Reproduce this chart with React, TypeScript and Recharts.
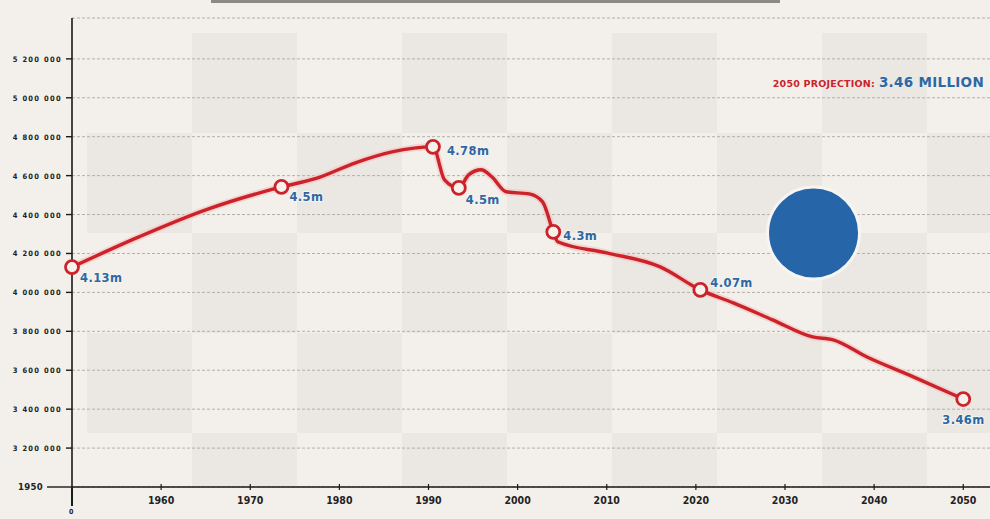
import React from "react";
import {
  LineChart,
  Line,
  XAxis,
  YAxis,
  CartesianGrid,
  ReferenceDot,
} from "recharts";

// population, millions
const years = [
  1950, 1957.5, 1965, 1973.5, 1977.3, 1981.8, 1985.9, 1990.5, 1991.8, 1993.4,
  1994.5, 1995.9, 1997.1, 1998.7, 2001.3, 2002.8, 2004, 2004.5, 2010, 2016,
  2020.5, 2024.2, 2028.6, 2033.1, 2035.4, 2039.2, 2044.4, 2050,
];
const population = [
  4.13, 4.285, 4.424, 4.542, 4.584, 4.666, 4.722, 4.748, 4.578, 4.537,
  4.604, 4.63, 4.594, 4.517, 4.506, 4.465, 4.311, 4.26, 4.203, 4.131,
  4.013, 3.946, 3.859, 3.771, 3.756, 3.668, 3.566, 3.452,
];
const tags = [
  "4.13m", "", "", "4.5m", "", "", "", "4.78m", "", "4.5m",
  "", "", "", "", "", "", "4.3m", "", "", "",
  "4.07m", "", "", "", "", "", "", "3.46m",
];

const xTicks = [1960, 1970, 1980, 1990, 2000, 2010, 2020, 2030, 2040, 2050];
const yTicks = [3.0, 3.2, 3.4, 3.6, 3.8, 4.0, 4.2, 4.4, 4.6, 4.8, 5.0, 5.2];
const baseLabel = "1950";
const projectionYear = "2050 PROJECTION:";
const projectionValue = "3.46 MILLION";
const bubble = { year: 2033.2, value: 4.305 };

const data = years.map((year, i) => ({
  year,
  pop: population[i],
  tag: tags[i],
}));

const W = 990;
const H = 519;
const AXIS_X = 72;
const AXIS_Y = 487;
const RED = "#cc232b";
const BLUE = "#2d68a5";
const BG = "#f3f0eb";

// label offsets (dx, dy) from each marked point, by index
const TAG_OFFSETS: Record<string, [number, number]> = {
  "0": [8, 15],
  "3": [8, 14],
  "7": [14, 8],
  "9": [7, 16],
  "16": [10, 8],
  "20": [10, -3],
  "27": [-21, 25],
};

function fmtPop(v: number): string {
  const n = Math.round(v * 1_000_000);
  return n.toString().replace(/\B(?=(\d{3})+(?!\d))/g, " ");
}

function YTick({ y, payload }: any) {
  const v = payload.value as number;
  const isBase = Math.abs(v - 3) < 1e-9;
  return (
    <g>
      <line
        x1={isBase ? 47 : 66}
        x2={AXIS_X}
        y1={y}
        y2={y}
        stroke="#1a1a1a"
        strokeWidth={1.4}
      />
      <text
        x={isBase ? 43 : 62}
        y={y + 3}
        textAnchor="end"
        fontSize={isBase ? 9.5 : 7.5}
        fontWeight="bold"
        letterSpacing={isBase ? 0.3 : 1.3}
        fill="#222"
        fontFamily="'DejaVu Sans Condensed', 'DejaVu Sans', sans-serif"
      >
        {isBase ? baseLabel : fmtPop(v)}
      </text>
    </g>
  );
}

function XTick({ x, payload }: any) {
  return (
    <g>
      <line x1={x} x2={x} y1={AXIS_Y - 3} y2={AXIS_Y + 3} stroke="#1a1a1a" strokeWidth={1.2} />
      <text
        x={x}
        y={AXIS_Y + 17}
        textAnchor="middle"
        fontSize={10.5}
        fontWeight="bold"
        fill="#222"
        fontFamily="'DejaVu Sans Condensed', 'DejaVu Sans', sans-serif"
      >
        {payload.value}
      </text>
    </g>
  );
}

function Marker(props: any) {
  const { cx, cy, index, payload } = props;
  if (!payload.tag) return <g key={`m-${index}`} />;
  const [dx, dy] = TAG_OFFSETS[String(index)] ?? [8, 12];
  return (
    <g key={`m-${index}`}>
      <circle cx={cx} cy={cy} r={6.5} fill="#f7f1ec" stroke={RED} strokeWidth={2.8} />
      <text
        x={cx + dx}
        y={cy + dy}
        fontSize={11.5}
        fontWeight="bold"
        letterSpacing={0.4}
        fill={BLUE}
        fontFamily="'DejaVu Sans', sans-serif"
        stroke="#f6f3ee"
        strokeWidth={2}
        paintOrder="stroke"
      >
        {payload.tag}
      </text>
    </g>
  );
}

export default function App() {
  return (
    <div
      style={{
        position: "absolute",
        left: 0,
        top: 0,
        width: W,
        height: H,
        background: BG,
        overflow: "hidden",
      }}
    >
      {/* faint checkerboard behind the plot */}
      <div
        style={{
          position: "absolute",
          left: 87,
          top: 33,
          width: W - 87,
          height: AXIS_Y - 33,
          backgroundImage:
            "repeating-conic-gradient(#ebe8e3 0 25%, #f3f0eb 0 50%)",
          backgroundSize: "210px 200px",
          backgroundPosition: "0px 0px",
        }}
      />
      {/* cropped title box edge */}
      <div
        style={{
          position: "absolute",
          left: 211,
          top: 0,
          width: 569,
          height: 3,
          background: "#8c8a86",
        }}
      />

      <div style={{ position: "absolute", left: 0, top: 0 }}>
        <LineChart
          width={W}
          height={H}
          data={data}
          margin={{ top: 18, right: 0, bottom: 0, left: 0 }}
        >
          <CartesianGrid
            horizontal
            vertical={false}
            stroke="#b3afa8"
            strokeDasharray="3 2"
          />
          <XAxis
            dataKey="year"
            type="number"
            domain={[1950, 2053]}
            ticks={xTicks}
            interval={0}
            height={H - AXIS_Y}
            tick={<XTick />}
            tickLine={false}
            axisLine={{ stroke: "#1a1a1a", strokeWidth: 1.6 }}
          />
          <YAxis
            type="number"
            domain={[3, 5.41]}
            ticks={yTicks}
            interval={0}
            width={AXIS_X}
            tick={<YTick />}
            tickLine={false}
            axisLine={{ stroke: "#1a1a1a", strokeWidth: 1.6 }}
          />
          <ReferenceDot
            x={bubble.year}
            y={bubble.value}
            r={46}
            fill="#2565a8"
            stroke="#f7f5f1"
            strokeWidth={3}
            isFront={false}
          />
          <Line
            type="monotone"
            dataKey="pop"
            stroke="#f2c9c6"
            strokeWidth={7}
            strokeOpacity={0.7}
            dot={false}
            activeDot={false}
            isAnimationActive={false}
          />
          <Line
            type="monotone"
            dataKey="pop"
            stroke={RED}
            strokeWidth={3.4}
            dot={(p: any) => <Marker {...p} />}
            activeDot={false}
            isAnimationActive={false}
          />
        </LineChart>
      </div>

      {/* axis stub below the origin */}
      <div
        style={{
          position: "absolute",
          left: AXIS_X - 1,
          top: AXIS_Y,
          width: 1.6,
          height: 19,
          background: "#1a1a1a",
        }}
      />
      <div
        style={{
          position: "absolute",
          left: AXIS_X - 3,
          top: 508,
          fontSize: 7,
          fontWeight: "bold",
          color: "#222",
          fontFamily: "'DejaVu Sans Condensed', sans-serif",
        }}
      >
        0
      </div>

      {/* projection note */}
      <div
        style={{
          position: "absolute",
          right: 6,
          top: 74,
          display: "flex",
          alignItems: "baseline",
          gap: 4,
          fontFamily: "'DejaVu Sans', sans-serif",
          fontWeight: "bold",
        }}
      >
        <span style={{ color: RED, fontSize: 9.5, letterSpacing: 0.2 }}>
          {projectionYear}
        </span>
        <span style={{ color: BLUE, fontSize: 13.5, letterSpacing: 0.3 }}>
          {projectionValue}
        </span>
      </div>
    </div>
  );
}
